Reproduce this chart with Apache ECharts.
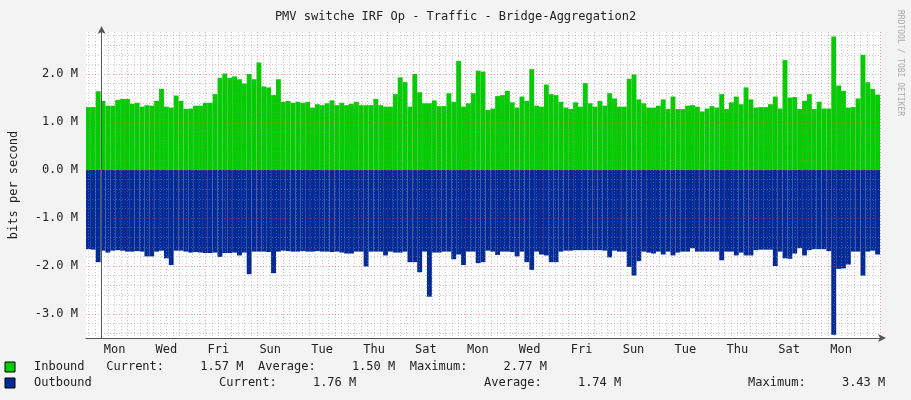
<!DOCTYPE html>
<html lang="en">
<head>
    <meta charset="UTF-8">
    <title>PMV switche IRF Op - Traffic - Bridge-Aggregation2</title>
    <script src="https://cdn.jsdelivr.net/npm/echarts@6/dist/echarts.min.js"></script>
    <style>
        body { margin: 0; background: #f3f3f3; }
    </style>
</head>
<body>
    <div id="chart" style="width:911px; height:400px"></div>
    <script>
        // inbound, M bits per second
        const inbound = [
            1.31,1.31,1.64,1.44,1.34,1.34,1.46,1.48,1.48,1.38,1.40,1.32,1.35,1.34,1.44,1.69,1.32,1.30,1.55,1.44,1.27,1.28,1.34,1.34,1.40,1.40,1.58,1.92,2.01,1.92,1.95,1.89,1.80,2.00,1.89,2.24,1.74,1.72,1.56,1.89,1.42,1.44,1.40,
            1.42,1.40,1.42,1.30,1.37,1.35,1.39,1.45,1.35,1.40,1.35,1.38,1.42,1.35,1.35,1.35,1.48,1.35,1.32,1.32,1.58,1.93,1.83,1.32,2.00,1.62,1.39,1.39,1.45,1.33,1.33,1.60,1.42,2.27,1.32,1.39,1.60,2.07,
            2.05,1.25,1.28,1.54,1.56,1.65,1.41,1.30,1.53,1.44,2.10,1.34,1.32,1.78,1.58,1.56,1.42,1.30,1.27,1.41,1.32,1.81,1.39,1.32,1.44,1.34,1.60,1.49,1.32,1.32,1.90,1.99,1.47,1.39,1.30,1.30,1.34,1.47,1.27,1.53,1.27,1.27,1.34,
            1.35,1.32,1.22,1.28,1.33,1.30,1.58,1.27,1.41,1.53,1.37,1.72,1.47,1.30,1.31,1.31,1.37,1.53,1.28,2.29,1.51,1.52,1.27,1.44,1.58,1.27,1.42,1.28,1.28,2.78,1.76,1.65,1.30,1.31,1.49,2.40,1.83,1.69,1.57
        ];
        // outbound, drawn below zero
        const outbound = [
            1.65,1.66,1.92,1.68,1.72,1.68,1.67,1.68,1.70,1.70,1.69,1.70,1.80,1.80,1.70,1.68,1.84,1.98,1.68,1.68,1.70,1.72,1.71,1.72,1.73,1.73,1.72,1.81,1.73,1.73,1.72,1.78,1.72,2.17,1.70,1.70,1.70,1.71,2.15,1.70,1.68,1.69,1.70,
            1.70,1.69,1.70,1.70,1.69,1.70,1.70,1.71,1.70,1.72,1.74,1.74,1.70,1.70,2.01,1.70,1.70,1.70,1.78,1.70,1.72,1.72,1.70,1.92,1.92,2.13,1.70,2.64,1.72,1.72,1.70,1.70,1.86,1.76,1.98,1.70,1.70,1.94,
            1.92,1.68,1.70,1.77,1.70,1.70,1.71,1.80,1.70,1.92,2.08,1.70,1.76,1.78,1.92,1.92,1.70,1.68,1.68,1.67,1.67,1.67,1.67,1.67,1.67,1.68,1.82,1.68,1.70,1.70,2.02,2.20,1.90,1.70,1.72,1.74,1.70,1.76,1.70,1.78,1.72,1.70,1.70,
            1.63,1.70,1.70,1.70,1.70,1.70,1.88,1.70,1.70,1.78,1.72,1.78,1.78,1.67,1.66,1.66,1.66,2.00,1.70,1.84,1.85,1.74,1.63,1.78,1.67,1.65,1.65,1.65,1.69,3.43,2.06,2.05,1.97,1.70,1.70,2.20,1.70,1.68,1.76
        ];
        // time axis in days, 0 = first midnight
        const dayMin = -0.6, dayMax = 30.0;
        const dayNames = ['Mon','Wed','Fri','Sun','Tue','Thu','Sat','Mon','Wed','Fri','Sun','Tue','Thu','Sat','Mon'];
        const dayLabelPos = dayNames.map((d, i) => i * 2 + 0.5);
        const midnights = Array.from({ length: 31 }, (_, i) => i);
        const sixHours = Array.from({ length: 123 }, (_, i) => -0.5 + i * 0.25).filter(v => v % 1 !== 0);
        const yLabels = [-3, -2, -1, 0, 1, 2];
        const yMinor = Array.from({ length: 32 }, (_, i) => Math.round((-3.4 + i * 0.2) * 10) / 10).filter(v => v % 1 !== 0);

        const font = 'DejaVu Sans Mono';
        const minorLine = 'rgba(140,140,140,0.45)';
        const majorLine = 'rgba(230,60,60,0.45)';
        const chart = echarts.init(document.getElementById('chart'));
        const plot = { left: 81, right: 31, top: 32, bottom: 62 };

        chart.setOption({
            backgroundColor: '#f3f3f3',
            animation: false,
            title: {
                text: 'PMV switche IRF Op - Traffic - Bridge-Aggregation2',
                left: 'center', top: 6,
                textStyle: { fontFamily: font, fontSize: 12, fontWeight: 'normal', color: '#222' }
            },
            grid: Object.assign({ show: true, backgroundColor: '#fff', borderWidth: 0 }, plot),
            xAxis: [
                { type: 'category', data: inbound.map((_, i) => i), show: false, boundaryGap: true },
                {
                    type: 'value', min: dayMin, max: dayMax, position: 'bottom', z: 3,
                    axisLine: { show: true, onZero: false, symbol: ['none', 'arrow'], symbolSize: [6, 8], symbolOffset: [0, 6],
                        lineStyle: { color: '#555' } },
                    axisTick: { show: false, customValues: midnights },
                    splitLine: { show: true, lineStyle: { color: majorLine, type: [1, 2] } },
                    axisLabel: { show: false }
                },
                {
                    type: 'value', min: dayMin, max: dayMax, position: 'bottom', z: 3,
                    axisLine: { show: false }, axisTick: { show: false, customValues: sixHours },
                    splitLine: { show: true, lineStyle: { color: minorLine, type: [1, 2] } },
                    axisLabel: { show: false }
                },
                {
                    type: 'value', min: dayMin, max: dayMax, position: 'bottom', z: 3,
                    axisLine: { show: false }, axisTick: { show: false, customValues: dayLabelPos },
                    splitLine: { show: false },
                    axisLabel: { customValues: dayLabelPos, margin: 6, fontFamily: font, fontSize: 12, color: '#222',
                        formatter: v => dayNames[dayLabelPos.indexOf(v)] || '' }
                }
            ],
            yAxis: [
                {
                    type: 'value', min: -3.5, max: 2.875, z: 3,
                    name: 'bits per second', nameLocation: 'middle', nameGap: 66, nameRotate: 90,
                    nameTextStyle: { fontFamily: font, fontSize: 12, color: '#222' },
                    axisLine: { show: true, symbol: ['none', 'arrow'], symbolSize: [6, 8], symbolOffset: [0, 6],
                        lineStyle: { color: '#555' } },
                    axisTick: { show: false, customValues: yLabels },
                    splitLine: { show: true, lineStyle: { color: majorLine, type: [1, 2] } },
                    axisLabel: { customValues: yLabels, margin: 8, fontFamily: font, fontSize: 12, color: '#222',
                        formatter: v => v.toFixed(1) + ' M' }
                },
                {
                    type: 'value', min: -3.5, max: 2.875, z: 3, position: 'left',
                    axisLine: { show: false }, axisTick: { show: false, customValues: yMinor },
                    splitLine: { show: true, lineStyle: { color: minorLine, type: [1, 2] } },
                    axisLabel: { show: false }
                }
            ],
            series: [
                { name: 'Inbound', type: 'bar', xAxisIndex: 0, data: inbound,
                    barGap: '-100%', barCategoryGap: 0, itemStyle: { color: '#00cc00' } },
                { name: 'Outbound', type: 'bar', xAxisIndex: 0, data: outbound.map(v => -v),
                    barGap: '-100%', barCategoryGap: 0, itemStyle: { color: '#002a97' } }
            ],
            graphic: [
                { type: 'text', x: 904, y: 10, rotation: -Math.PI / 2,
                    style: { text: 'RRDTOOL / TOBI OETIKER', fill: '#aaa', font: '8px ' + font } },
                { type: 'rect', shape: { x: 5, y: 362, width: 10, height: 10 },
                    style: { fill: '#00cc00', stroke: '#000', lineWidth: 1 } },
                { type: 'rect', shape: { x: 5, y: 378, width: 10, height: 10 },
                    style: { fill: '#002a97', stroke: '#000', lineWidth: 1 } },
                { type: 'text', x: 34, y: 361,
                    style: { text: 'Inbound   Current:     1.57 M  Average:     1.50 M  Maximum:     2.77 M', fill: '#222', font: '12px ' + font } },
                { type: 'text', x: 34, y: 377, style: { text: 'Outbound', fill: '#222', font: '12px ' + font } },
                { type: 'text', x: 219, y: 377, style: { text: 'Current:     1.76 M', fill: '#222', font: '12px ' + font } },
                { type: 'text', x: 484, y: 377, style: { text: 'Average:     1.74 M', fill: '#222', font: '12px ' + font } },
                { type: 'text', x: 748, y: 377, style: { text: 'Maximum:     3.43 M', fill: '#222', font: '12px ' + font } }
            ]
        });
    </script>
</body>
</html>
